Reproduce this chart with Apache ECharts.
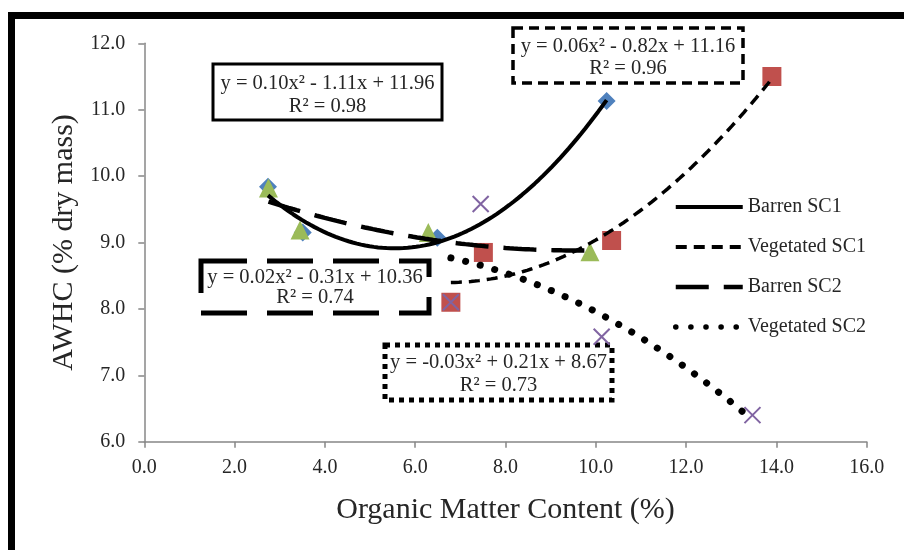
<!DOCTYPE html>
<html>
<head>
<meta charset="utf-8">
<script src="https://cdn.jsdelivr.net/npm/echarts@6/dist/echarts.min.js"></script>
<style>html,body{margin:0;padding:0;background:#fff}#c{width:904px;height:550px}</style>
</head>
<body>
<div id="c"></div>
<script>
// ---- data ----
const seriesNames = ['Barren SC1', 'Vegetated SC1', 'Barren SC2', 'Vegetated SC2'];
const xBarrenSC1 = [2.74, 3.51, 6.49, 10.24];
const yBarrenSC1 = [9.84, 9.15, 9.07, 11.13];
const xVegetatedSC1 = [6.79, 7.51, 10.35, 13.90];
const yVegetatedSC1 = [8.10, 8.85, 9.03, 11.50];
const xBarrenSC2 = [2.75, 3.45, 6.29, 9.87];
const yBarrenSC2 = [9.82, 9.19, 9.15, 8.86];
const xVegetatedSC2 = [7.45, 6.79, 10.13, 13.47];
const yVegetatedSC2 = [9.58, 8.10, 7.58, 6.40];
const equationLabels = [
  'y = 0.10x² - 1.11x + 11.96\nR² = 0.98',
  'y = 0.06x² - 0.82x + 11.16\nR² = 0.96',
  'y = 0.02x² - 0.31x + 10.36\nR² = 0.74',
  'y = -0.03x² + 0.21x + 8.67\nR² = 0.73'
];
const xAxisTitle = 'Organic Matter Content (%)';
const yAxisTitle = 'AWHC (% dry mass)';

// ---- quadratic least-squares trendline from the data ----
function quadFit(xs, ys) {
  let s = [0,0,0,0,0], t = [0,0,0];
  for (let i = 0; i < xs.length; i++) {
    let p = 1;
    for (let k = 0; k < 5; k++) { s[k] += p; if (k < 3) t[k] += p * ys[i]; p *= xs[i]; }
  }
  const A = [[s[0],s[1],s[2],t[0]],[s[1],s[2],s[3],t[1]],[s[2],s[3],s[4],t[2]]];
  for (let i = 0; i < 3; i++) {
    let m = i; for (let r = i+1; r < 3; r++) if (Math.abs(A[r][i]) > Math.abs(A[m][i])) m = r;
    [A[i], A[m]] = [A[m], A[i]];
    for (let r = 0; r < 3; r++) if (r !== i) {
      const f = A[r][i] / A[i][i];
      for (let c = i; c < 4; c++) A[r][c] -= f * A[i][c];
    }
  }
  return [A[0][3]/A[0][0], A[1][3]/A[1][1], A[2][3]/A[2][2]];
}
function trend(xs, ys) {
  const c = quadFit(xs, ys);
  const lo = Math.min(...xs), hi = Math.max(...xs), out = [];
  const n = 80;
  for (let i = 0; i <= n; i++) { const x = lo + (hi - lo) * i / n; out.push([x, c[0] + c[1]*x + c[2]*x*x]); }
  return out;
}
const zip = (xs, ys) => xs.map((x, i) => [x, ys[i]]);

const FONT = '"Liberation Serif", "Times New Roman", serif';
const TXT = '#262626';
const AX = '#878787';

const chart = echarts.init(document.getElementById('c'), null, {renderer: 'canvas'});

function box(x, y, w, h, dash, lw, text, lh, dy) {
  return {
    type: 'group', z: 100,
    children: [
      {type: 'rect', shape: {x: x, y: y, width: w, height: h},
       style: {fill: '#fff', stroke: '#000', lineWidth: lw, lineDash: dash}},
      {type: 'text', x: x + w / 2, y: y + h / 2 + dy,
       style: {text: text, font: '20.5px ' + FONT, fill: TXT, align: 'center', verticalAlign: 'middle', lineHeight: lh}}
    ]
  };
}

const option = {
  backgroundColor: '#fff',
  animation: false,
  grid: {left: 144.3, right: 37.3, top: 43.3, bottom: 108.3},
  xAxis: {
    type: 'value', min: 0, max: 16, interval: 2,
    name: xAxisTitle, nameLocation: 'middle', nameGap: 53,
    nameTextStyle: {fontFamily: FONT, fontSize: 30, color: TXT},
    axisLine: {show: true, onZero: false, lineStyle: {color: AX, width: 1.5}},
    axisTick: {show: true, length: 6, lineStyle: {color: AX, width: 1.5}},
    splitLine: {show: false},
    axisLabel: {fontFamily: FONT, fontSize: 20, color: TXT, margin: 16, formatter: v => v.toFixed(1)}
  },
  yAxis: {
    type: 'value', min: 6, max: 12, interval: 1,
    name: yAxisTitle, nameLocation: 'middle', nameGap: 40, nameRotate: 90,
    nameTextStyle: {fontFamily: FONT, fontSize: 30, color: TXT},
    axisLine: {show: true, lineStyle: {color: AX, width: 1.5}},
    axisTick: {show: true, length: 6, lineStyle: {color: AX, width: 1.5}},
    splitLine: {show: false},
    axisLabel: {fontFamily: FONT, fontSize: 20, color: TXT, margin: 19, formatter: v => v.toFixed(1)}
  },
  legend: {
    data: [
      {name: seriesNames[0], lineStyle: {width: 4}},
      {name: seriesNames[1], lineStyle: {width: 4}},
      {name: seriesNames[2], lineStyle: {width: 4.5}},
      {name: seriesNames[3], lineStyle: {width: 5.5}}
    ],
    orient: 'vertical', left: 668, top: 192,
    itemWidth: 67, itemHeight: 14, itemGap: 20,
    textStyle: {fontFamily: FONT, fontSize: 20, color: TXT, lineHeight: 20},
    itemStyle: {opacity: 0},
    lineStyle: {width: 4}
  },
  series: [
    {name: 'Barren SC1 data', type: 'scatter', data: zip(xBarrenSC1, yBarrenSC1), symbol: 'diamond', symbolSize: 18,
     itemStyle: {color: '#4F81BD', opacity: 1}, z: 2},
    {name: 'Vegetated SC1 data', type: 'scatter', data: zip(xVegetatedSC1, yVegetatedSC1), symbol: 'rect', symbolSize: 19,
     itemStyle: {color: '#C0504D', opacity: 1}, z: 2},
    {name: 'Barren SC2 data', type: 'scatter', data: zip(xBarrenSC2, yBarrenSC2), symbol: 'triangle', symbolSize: 19,
     itemStyle: {color: '#9BBB59', opacity: 1}, z: 3},
    {name: 'Vegetated SC2 data', type: 'scatter', data: zip(xVegetatedSC2, yVegetatedSC2), symbol: 'path://M0,0L10,10M10,0L0,10', symbolSize: 16,
     itemStyle: {color: 'transparent', borderColor: '#8064A2', borderWidth: 2, opacity: 1}, z: 4},
    {name: seriesNames[0], type: 'line', data: trend(xBarrenSC1, yBarrenSC1), showSymbol: false, symbol: 'none', z: 10,
     lineStyle: {color: '#000', width: 4, type: 'solid'}, itemStyle: {color: '#000'}},
    {name: seriesNames[1], type: 'line', data: trend(xVegetatedSC1, yVegetatedSC1), showSymbol: false, symbol: 'none', z: 10,
     lineStyle: {color: '#000', width: 3.5, type: [11, 7]}, itemStyle: {color: '#000'}},
    {name: seriesNames[2], type: 'line', data: trend(xBarrenSC2, yBarrenSC2), showSymbol: false, symbol: 'none', z: 10,
     lineStyle: {color: '#000', width: 4.5, type: [33, 15]}, itemStyle: {color: '#000'}},
    {name: seriesNames[3], type: 'line', data: trend(xVegetatedSC2, yVegetatedSC2), showSymbol: false, symbol: 'none', z: 10,
     lineStyle: {color: '#000', width: 7, type: [0.1, 15], cap: 'round'}, itemStyle: {color: '#000'}}
  ],
  graphic: [
    {type: 'rect', z: 200, silent: true, shape: {x: 11.5, y: 15.5, width: 1500, height: 1500},
     style: {fill: 'none', stroke: '#000', lineWidth: 7}},
    box(213, 64, 229, 56, null, 3, equationLabels[0], 23, 3),
    box(513, 28, 230, 55, [10, 6], 3.5, equationLabels[1], 22, 2),
    box(201, 261, 228, 52, [46, 20], 5, equationLabels[2], 20, 1),
    box(385, 345, 227, 55, [5, 5], 5, equationLabels[3], 23, 2)
  ]
};
chart.setOption(option);
</script>
</body>
</html>
